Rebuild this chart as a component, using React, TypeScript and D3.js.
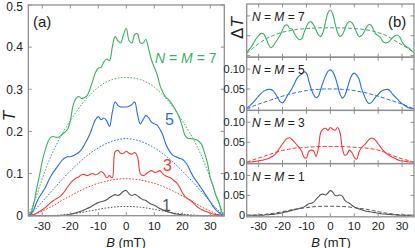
import * as d3 from "d3";

// B grids (mT)
const B_FINE = d3.range(-35, 36, 1);
const B_COARSE = d3.range(-35, 35.1, 2.5);

// (a) measured T, N = M = 7, 5, 3, 1
const T7 = [0, 0.008, 0.03, 0.065, 0.095, 0.13, 0.155, 0.175, 0.186, 0.188, 0.186, 0.187, 0.192, 0.198, 0.205, 0.225, 0.262, 0.278, 0.283, 0.278, 0.28, 0.285, 0.3, 0.32, 0.34, 0.35, 0.352, 0.365, 0.372, 0.368, 0.4, 0.425, 0.415, 0.41, 0.43, 0.445, 0.415, 0.41, 0.43, 0.432, 0.41, 0.41, 0.418, 0.395, 0.37, 0.352, 0.335, 0.31, 0.294, 0.282, 0.276, 0.268, 0.258, 0.246, 0.232, 0.212, 0.19, 0.184, 0.183, 0.182, 0.18, 0.176, 0.168, 0.148, 0.125, 0.09, 0.07, 0.048, 0.033, 0.01, 0];
const T5 = [0, 0.004, 0.015, 0.032, 0.045, 0.055, 0.066, 0.08, 0.093, 0.104, 0.113, 0.122, 0.131, 0.137, 0.14, 0.14, 0.142, 0.146, 0.15, 0.157, 0.168, 0.18, 0.194, 0.212, 0.228, 0.235, 0.228, 0.232, 0.225, 0.212, 0.245, 0.27, 0.262, 0.258, 0.258, 0.258, 0.26, 0.264, 0.27, 0.24, 0.218, 0.228, 0.238, 0.232, 0.222, 0.218, 0.215, 0.205, 0.192, 0.172, 0.158, 0.148, 0.142, 0.139, 0.136, 0.134, 0.128, 0.118, 0.104, 0.092, 0.082, 0.073, 0.063, 0.053, 0.043, 0.033, 0.022, 0.014, 0.008, 0.003, 0];
const T3 = [0, 0.001, 0.003, 0.006, 0.01, 0.014, 0.019, 0.025, 0.031, 0.036, 0.04, 0.044, 0.05, 0.058, 0.068, 0.077, 0.084, 0.089, 0.092, 0.097, 0.098, 0.095, 0.098, 0.1, 0.097, 0.1, 0.105, 0.1, 0.09, 0.095, 0.09, 0.152, 0.155, 0.148, 0.148, 0.153, 0.148, 0.146, 0.15, 0.14, 0.1, 0.095, 0.099, 0.104, 0.107, 0.103, 0.104, 0.107, 0.1, 0.095, 0.092, 0.089, 0.083, 0.078, 0.068, 0.055, 0.045, 0.04, 0.036, 0.03, 0.023, 0.018, 0.014, 0.011, 0.009, 0.006, 0.004, 0.003, 0.002, 0.001, 0];
const T1 = [0, 0, 0, 0, 0, 0, 0, 0, 0, 0, 0, 0, 0.001, 0.001, 0.002, 0.003, 0.005, 0.007, 0.009, 0.011, 0.014, 0.017, 0.02, 0.024, 0.028, 0.031, 0.033, 0.035, 0.038, 0.043, 0.047, 0.05, 0.048, 0.052, 0.058, 0.06, 0.052, 0.048, 0.051, 0.047, 0.042, 0.038, 0.036, 0.031, 0.027, 0.025, 0.021, 0.017, 0.014, 0.011, 0.009, 0.007, 0.005, 0.004, 0.003, 0.002, 0.001, 0.001, 0, 0, 0, 0, 0, 0, 0, 0, 0, 0, 0, 0, 0];

// (a) smooth background curves (coarse grid)
const S7 = [0, 0.04, 0.088, 0.132, 0.168, 0.199, 0.225, 0.25, 0.272, 0.29, 0.305, 0.316, 0.323, 0.327, 0.328, 0.327, 0.323, 0.316, 0.305, 0.29, 0.272, 0.25, 0.225, 0.199, 0.168, 0.132, 0.088, 0.04, 0];
const S5 = [0, 0.015, 0.033, 0.052, 0.071, 0.089, 0.106, 0.122, 0.137, 0.15, 0.161, 0.17, 0.177, 0.181, 0.183, 0.181, 0.177, 0.17, 0.161, 0.15, 0.137, 0.122, 0.106, 0.089, 0.071, 0.052, 0.033, 0.015, 0];
const S3 = [0, 0.004, 0.011, 0.019, 0.028, 0.038, 0.047, 0.056, 0.064, 0.071, 0.077, 0.081, 0.085, 0.087, 0.088, 0.087, 0.085, 0.081, 0.077, 0.071, 0.064, 0.056, 0.047, 0.038, 0.028, 0.019, 0.011, 0.004, 0];
const S1 = [0, 0, 0, 0, 0.001, 0.002, 0.004, 0.006, 0.009, 0.012, 0.015, 0.018, 0.02, 0.0215, 0.022, 0.0215, 0.02, 0.018, 0.015, 0.012, 0.009, 0.006, 0.004, 0.002, 0.001, 0, 0, 0, 0];

// (b) ΔT oscillating parts
const D7 = [0.007, 0.015, 0.023, 0.033, 0.043, 0.05, 0.056, 0.055, 0.045, 0.03, 0.02, 0.024, 0.033, 0.042, 0.052, 0.065, 0.076, 0.077, 0.068, 0.067, 0.055, 0.046, 0.04, 0.042, 0.058, 0.073, 0.084, 0.085, 0.077, 0.065, 0.052, 0.048, 0.06, 0.085, 0.108, 0.115, 0.105, 0.08, 0.058, 0.048, 0.052, 0.066, 0.08, 0.086, 0.083, 0.073, 0.058, 0.048, 0.05, 0.058, 0.07, 0.078, 0.077, 0.066, 0.055, 0.05, 0.045, 0.035, 0.032, 0.033, 0.038, 0.045, 0.05, 0.052, 0.047, 0.035, 0.026, 0.022, 0.018, 0.012, 0.007];
const D5 = [0.001, 0.006, 0.012, 0.018, 0.025, 0.032, 0.039, 0.044, 0.047, 0.049, 0.049, 0.046, 0.038, 0.028, 0.018, 0.015, 0.022, 0.033, 0.042, 0.052, 0.064, 0.076, 0.083, 0.087, 0.093, 0.09, 0.07, 0.05, 0.036, 0.028, 0.032, 0.05, 0.068, 0.083, 0.094, 0.098, 0.093, 0.08, 0.06, 0.038, 0.027, 0.033, 0.05, 0.07, 0.085, 0.09, 0.085, 0.075, 0.052, 0.036, 0.022, 0.014, 0.015, 0.022, 0.03, 0.036, 0.043, 0.047, 0.048, 0.049, 0.045, 0.037, 0.031, 0.025, 0.018, 0.013, 0.009, 0.005, 0.002, 0.001, 0];
const D3 = [0, 0, 0, 0.001, 0.002, 0.003, 0.004, 0.005, 0.007, 0.009, 0.012, 0.015, 0.02, 0.028, 0.037, 0.046, 0.054, 0.06, 0.061, 0.056, 0.05, 0.043, 0.036, 0.027, 0.012, 0.01, 0.027, 0.03, 0.028, 0.014, 0.035, 0.075, 0.083, 0.085, 0.08, 0.087, 0.082, 0.08, 0.087, 0.075, 0.035, 0.017, 0.02, 0.03, 0.024, 0.012, 0.007, 0.025, 0.036, 0.042, 0.048, 0.056, 0.06, 0.059, 0.054, 0.046, 0.038, 0.03, 0.024, 0.019, 0.015, 0.012, 0.009, 0.006, 0.004, 0.003, 0.002, 0.001, 0, 0, 0];
const D1 = [0, 0, 0, 0, 0, 0, 0, 0, 0.001, 0.001, 0.002, 0.002, 0.003, 0.004, 0.005, 0.006, 0.008, 0.009, 0.011, 0.012, 0.014, 0.015, 0.017, 0.019, 0.021, 0.025, 0.029, 0.03, 0.033, 0.04, 0.046, 0.052, 0.053, 0.051, 0.056, 0.062, 0.058, 0.05, 0.049, 0.051, 0.048, 0.038, 0.033, 0.03, 0.025, 0.021, 0.018, 0.016, 0.014, 0.012, 0.01, 0.009, 0.008, 0.007, 0.006, 0.005, 0.004, 0.003, 0.003, 0.002, 0.002, 0.001, 0.001, 0, 0, 0, 0, 0, 0, 0, 0];

// (b) smooth envelopes
const E7 = [0.005, 0.018, 0.03, 0.04, 0.048, 0.054, 0.059, 0.062, 0.065, 0.067, 0.068, 0.069, 0.07, 0.07, 0.07, 0.07, 0.07, 0.069, 0.068, 0.067, 0.065, 0.062, 0.058, 0.053, 0.045, 0.036, 0.027, 0.018, 0.008];
const E5 = [0, 0.006, 0.012, 0.017, 0.022, 0.027, 0.032, 0.036, 0.04, 0.043, 0.046, 0.048, 0.049, 0.05, 0.05, 0.05, 0.049, 0.048, 0.046, 0.043, 0.04, 0.036, 0.032, 0.027, 0.022, 0.017, 0.012, 0.006, 0];
const E3 = [0, 0.005, 0.01, 0.015, 0.02, 0.025, 0.029, 0.032, 0.035, 0.036, 0.037, 0.038, 0.039, 0.039, 0.039, 0.039, 0.039, 0.038, 0.037, 0.036, 0.035, 0.033, 0.03, 0.025, 0.019, 0.013, 0.008, 0.004, 0];
const E1 = [0, 0, 0.001, 0.002, 0.004, 0.006, 0.009, 0.012, 0.015, 0.017, 0.019, 0.021, 0.022, 0.0225, 0.0225, 0.0225, 0.022, 0.021, 0.019, 0.017, 0.015, 0.012, 0.009, 0.006, 0.004, 0.002, 0.001, 0, 0];

const X_TICKS = [-30, -20, -10, 0, 10, 20, 30];
const T_TICKS = [0, 0.1, 0.2, 0.3, 0.4, 0.5];
const DT_TICKS = [0, 0.05, 0.1];
const DT_LABELS = ["0", "0.05", "0.10"];

const GREEN = "#3cb064";
const BLUE = "#2a6fe0";
const RED = "#f23a3a";
const GRAY = "#555555";
const FRAME = "#8f8f8f";
const FONT = "'Liberation Sans', Arial, sans-serif";

const PANELS = [
    {n: 7, color: GREEN, data: D7, env: E7},
    {n: 5, color: BLUE, data: D5, env: E5},
    {n: 3, color: RED, data: D3, env: E3},
    {n: 1, color: GRAY, data: D1, env: E1},
];

function NM({x, y, n, fill, size}: { x: number, y: number, n: number, fill: string, size: number }) {
    return <text x={x} y={y} fill={fill} fontSize={size} fontFamily={FONT}>
        <tspan fontStyle="italic">N</tspan> = <tspan fontStyle="italic">M</tspan> = {n}
    </text>
}

export default function App() {
    const xa = d3.scaleLinear([-35, 35], [28.3, 224.3]);
    const ya = d3.scaleLinear([0, 0.5], [215.7, 5]);
    const xb = d3.scaleLinear([-35, 35], [246.7, 414]);
    const panelH = 53.2;

    const lineA = (bs: number[], vs: number[]) =>
        d3.line<number>().x((_, i) => xa(bs[i])).y(v => ya(v)).curve(d3.curveCatmullRom.alpha(0.5))(vs) ?? "";

    const tk = 3.5;
    const solidA = [
        {v: T7, s: S7, c: GREEN},
        {v: T5, s: S5, c: BLUE},
        {v: T3, s: S3, c: RED},
        {v: T1, s: S1, c: GRAY},
    ];

    return <div style={{position: "fixed", left: 0, top: 0}}>
        <svg width={415} height={248} viewBox="0 0 415 248" style={{display: "block", background: "#fff"}}>
            {/* panel (a) */}
            {solidA.map((d, i) => <g key={i}>
                <path d={lineA(B_COARSE, d.s)} fill="none" stroke={d.c} strokeWidth={1} strokeDasharray="1.6,1.6"/>
                <path d={lineA(B_FINE, d.v)} fill="none" stroke={d.c} strokeWidth={1.1}/>
            </g>)}
            <rect x={xa(-35)} y={ya(0.5)} width={xa(35) - xa(-35)} height={ya(0) - ya(0.5)}
                  fill="none" stroke={FRAME} strokeWidth={1.3}/>
            {X_TICKS.map(t => <g key={t}>
                <line x1={xa(t)} x2={xa(t)} y1={ya(0)} y2={ya(0) - tk} stroke={FRAME}/>
                <line x1={xa(t)} x2={xa(t)} y1={ya(0.5)} y2={ya(0.5) + tk} stroke={FRAME}/>
                <text x={xa(t)} y={230} textAnchor="middle" fontSize={11.5} fontFamily={FONT} fill="#222">{t}</text>
            </g>)}
            {T_TICKS.map(t => <g key={t}>
                <line x1={xa(-35)} x2={xa(-35) + tk} y1={ya(t)} y2={ya(t)} stroke={FRAME}/>
                <line x1={xa(35)} x2={xa(35) - tk} y1={ya(t)} y2={ya(t)} stroke={FRAME}/>
                <text x={23} y={Math.max(ya(t) + 4.3, 11)} textAnchor="end" fontSize={12} fontFamily={FONT}
                      fill="#222">{t}</text>
            </g>)}
            <text x={33} y={27} fontSize={15} fontFamily={FONT} fill="#222">(a)</text>
            <NM x={155} y={63} n={7} fill={GREEN} size={14}/>
            <text x={165} y={125} fontSize={16} fontFamily={FONT} fill={BLUE}>5</text>
            <text x={163} y={171} fontSize={16} fontFamily={FONT} fill={RED}>3</text>
            <text x={162} y={211} fontSize={16} fontFamily={FONT} fill={GRAY}>1</text>
            <text transform="translate(15,116) rotate(-90)" textAnchor="middle" fontSize={17} fontStyle="italic"
                  fontFamily={FONT} fill="#222">T</text>
            <text x={126} y={246.5} textAnchor="middle" fontSize={13} fontFamily={FONT} fill="#222">
                <tspan fontStyle="italic">B</tspan> (mT)
            </text>

            {/* panel (b) */}
            {PANELS.map((p, i) => {
                const top = 4 + i * panelH;
                const yb = d3.scaleLinear([-0.004, 0.13], [top + panelH, top]);
                const ln = (bs: number[], vs: number[]) =>
                    d3.line<number>().x((_, j) => xb(bs[j])).y(v => yb(v)).curve(d3.curveCatmullRom.alpha(0.5))(vs) ?? "";
                return <g key={p.n}>
                    <path d={ln(B_COARSE, p.env)} fill="none" stroke={p.color} strokeWidth={1} strokeDasharray="4,2"/>
                    <path d={ln(B_FINE, p.data)} fill="none" stroke={p.color} strokeWidth={1.1}/>
                    <rect x={xb(-35)} y={top} width={xb(35) - xb(-35)} height={panelH} fill="none" stroke={FRAME}
                          strokeWidth={1.3}/>
                    {X_TICKS.map(t => <g key={t}>
                        <line x1={xb(t)} x2={xb(t)} y1={top + panelH} y2={top + panelH - tk} stroke={FRAME}/>
                        <line x1={xb(t)} x2={xb(t)} y1={top} y2={top + tk} stroke={FRAME}/>
                    </g>)}
                    {DT_TICKS.map((t, j) => <g key={t}>
                        <line x1={xb(-35)} x2={xb(-35) + tk} y1={yb(t)} y2={yb(t)} stroke={FRAME}/>
                        <line x1={xb(35)} x2={xb(35) - tk} y1={yb(t)} y2={yb(t)} stroke={FRAME}/>
                        {i > 0 && <text x={245} y={yb(t) + 4} textAnchor="end" fontSize={11} fontFamily={FONT}
                                        fill="#222">{DT_LABELS[j]}</text>}
                    </g>)}
                    <NM x={252} y={top + 17} n={p.n} fill="#222" size={12}/>
                </g>
            })}
            {X_TICKS.map(t => <text key={t} x={xb(t)} y={230} textAnchor="middle" fontSize={11.5} fontFamily={FONT}
                                    fill="#222">{t}</text>)}
            <text x={388} y={27} fontSize={15} fontFamily={FONT} fill="#222">(b)</text>
            <text transform="translate(243,28) rotate(-90)" textAnchor="middle" fontSize={17} fontFamily={FONT}
                  fill="#222">Δ<tspan fontStyle="italic">T</tspan></text>
            <text x={331} y={246.5} textAnchor="middle" fontSize={13} fontFamily={FONT} fill="#222">
                <tspan fontStyle="italic">B</tspan> (mT)
            </text>
        </svg>
    </div>
}
